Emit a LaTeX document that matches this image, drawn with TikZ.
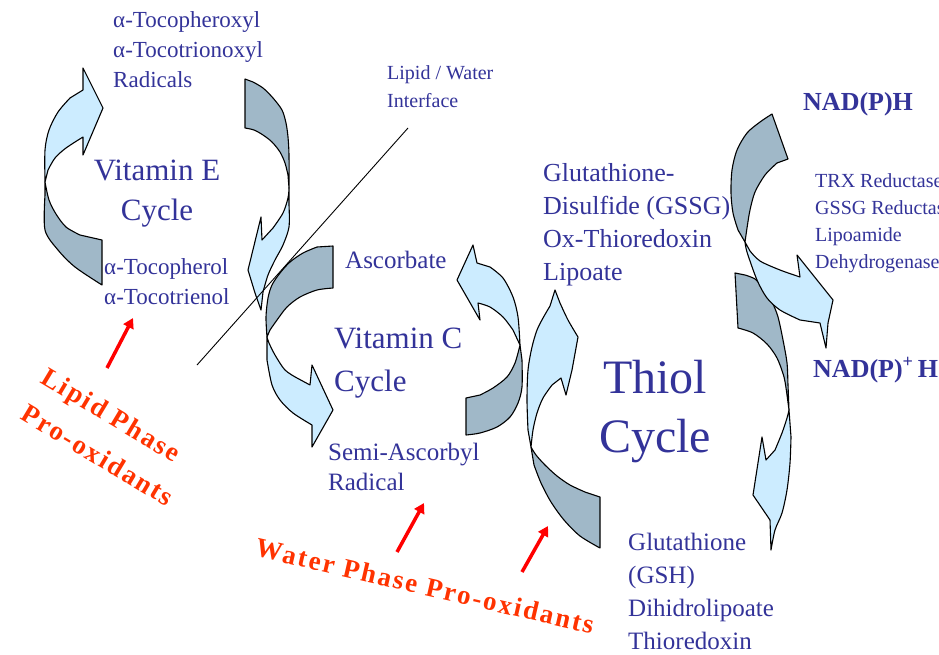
\documentclass[tikz,border=0pt]{standalone}
\usepackage{fontspec}
\setmainfont{Liberation Serif}
\usepackage{tikz}
\usetikzlibrary{arrows.meta}
\definecolor{azulTexto}{RGB}{51,51,153}
\definecolor{vermelhoTexto}{RGB}{255,51,0}
\definecolor{faceClaraCor}{RGB}{204,236,255}
\definecolor{faceEscuraCor}{RGB}{160,184,200}
\newcommand{\tam}[2]{\fontsize{#1}{#2}\selectfont}
\tikzset{
    face/.style={draw=black, line width=1.1pt, line join=round},
    faceClara/.style={face, fill=faceClaraCor},
    faceEscura/.style={face, fill=faceEscuraCor},
    rotulo/.style={text=azulTexto, align=left, inner sep=0pt, anchor=base west},
    tituloCiclo/.style={text=azulTexto, align=center, inner sep=0pt, anchor=base},
    cofator/.style={rotulo, font=\bfseries\tam{26}{30}},
    oxidante/.style={text=vermelhoTexto, inner sep=0pt,
        font=\bfseries\tam{27}{38}\addfontfeatures{LetterSpace=8}},
    setaOxidante/.style={-{Triangle[length=10pt,width=11pt]}, red, line width=3.5pt},
    linhaInterface/.style={line width=0.9pt}
}

\begin{document}
\begin{tikzpicture}[x=1pt, y=-1pt]
    \useasboundingbox (0,0) rectangle (939,654);
    \fill[white] (0,0) rectangle (939,654);

    % ciclo da vitamina E
    \draw[faceEscura] (45,182) -- plot[smooth] coordinates {(45,195) (45,230) (58,250) (75,267) (102,285)}
        -- (102,240) -- plot[smooth] coordinates {(80,235) (66,227) (56,214) (49,200) (45,182)} -- cycle;
    \draw[faceClara] (103,108) -- (83,68) -- (83,90) -- plot[smooth] coordinates {(70,98) (58,112) (49,130) (45,150) (45,182)}
        -- plot[smooth] coordinates {(48,170) (55,158) (66,148) (83,137)} -- (83,155) -- cycle;
    \draw[faceEscura] (245,79) -- plot[smooth] coordinates {(253,82) (263,88) (273,98) (282,110) (286,123) (288,137) (289,155) (289,188)}
        -- plot[smooth] coordinates {(288,175) (285,163) (280,152) (272,142) (263,135) (254,130) (245,128)} -- cycle;
    \draw[faceClara] (289,188) -- plot[smooth] coordinates {(289,205) (289,227) (283,245) (275,260) (268,275) (263,292)}
        -- (261,310) -- (255,293) -- (248,270) -- (261,217) -- (262,240)
        -- plot[smooth] coordinates {(273,228) (283,213) (288,198) (289,188)} -- cycle;

    % ciclo da vitamina C
    \draw[faceEscura] (333,246) -- plot[smooth] coordinates {(317,247) (303,253) (290,262) (280,273) (272,285) (268,298) (266,317) (267,337)}
        -- plot[smooth] coordinates {(270,330) (277,320) (287,307) (300,297) (317,290) (333,288)} -- cycle;
    \draw[faceClara] (267,337) -- plot[smooth] coordinates {(267,360) (272,385) (280,400) (293,413) (312,425)}
        -- (312,447) -- (333,410) -- (312,365) -- (310,385)
        -- plot[smooth] coordinates {(297,378) (285,370) (275,355) (269,343) (267,337)} -- cycle;
    \draw[faceClara] (473,245) -- (477,263) -- plot[smooth] coordinates {(490,267) (503,278) (513,297) (518,317) (520,345)}
        -- plot[smooth] coordinates {(513,330) (503,317) (490,307) (478,303)} -- (480,320) -- (457,280) -- cycle;
    \draw[faceEscura] (520,345) -- plot[smooth] coordinates {(522,360) (522,387) (518,403) (510,417) (497,427) (480,433) (466,435)}
        -- (466,398) -- plot[smooth] coordinates {(480,395) (493,388) (507,377) (515,363) (520,345)} -- cycle;

    % ciclo dos tiois
    \draw[faceClara] (555,290) -- plot[smooth] coordinates {(560,303) (568,320) (578,337)} -- (572,370) -- (566,395) -- (561,378)
        -- plot[smooth] coordinates {(552,385) (543,398) (537,413) (533,430) (531,447)}
        -- plot[smooth] coordinates {(528,430) (527,400) (528,370) (532,347) (537,330) (543,318) (550,306)} -- cycle;
    \draw[faceEscura] (531,447) -- plot[smooth] coordinates {(534,465) (541,483) (551,502) (564,520) (580,536) (600,548)}
        -- (600,497) -- plot[smooth] coordinates {(585,492) (570,485) (557,476) (545,465) (536,455) (531,447)} -- cycle;
    \draw[faceEscura] (735,273) -- plot[smooth] coordinates {(745,275) (755,279) (763,288) (772,302) (778,317) (783,340) (787,363) (788,385) (789,410)}
        -- plot[smooth] coordinates {(787,395) (784,377) (777,358) (767,344) (753,333) (738,328)} -- cycle;
    \draw[faceClara] (789,410) -- plot[smooth] coordinates {(791,437) (790,463) (787,490) (782,513) (775,530) (771,550)}
        -- (770,520) -- (753,495) -- (762,437) -- (766,460)
        -- plot[smooth] coordinates {(775,450) (782,433) (787,418) (789,410)} -- cycle;

    % NAD(P)H
    \draw[faceEscura] (772,114) -- (788,159) -- plot[smooth] coordinates {(777,163) (765,175) (755,192) (750,210) (747,228) (745,242)}
        -- plot[smooth] coordinates {(738,230) (733,213) (731,193) (732,170) (737,150) (747,133) (760,122) (772,114)} -- cycle;
    \draw[faceClara] (745,242) -- plot[smooth] coordinates {(750,251) (760,261) (780,270) (800,277)}
        -- (797,255) -- (833,300) -- (828,323) -- (826,348) -- (820,323)
        -- plot[smooth] coordinates {(800,320) (780,310) (767,298) (757,280) (747,252) (745,242)} -- cycle;

    \coordinate (interfaceA) at (197,365);
    \coordinate (interfaceB) at (408,128);
    \draw[linhaInterface] (interfaceA) -- (interfaceB);

    \node[rotulo, font=\tam{23}{30}] (radicaisE) at (113,87) {α-Tocopheroxyl\\α-Tocotrionoxyl\\Radicals};
    \node[tituloCiclo, font=\tam{31}{40}] (cicloE) at (157,220) {Vitamin E\\Cycle};
    \node[rotulo, font=\tam{23}{30}] (tocoferol) at (104,304) {α-Tocopherol\\α-Tocotrienol};
    \node[rotulo, font=\tam{20}{28}] (interfaceTxt) at (387,107) {Lipid / Water\\Interface};
    \node[rotulo, font=\tam{25}{30}] (ascorbato) at (345,268) {Ascorbate};
    \node[rotulo, font=\tam{31}{43}] (cicloC) at (334,391) {Vitamin C\\Cycle};
    \node[rotulo, font=\tam{25}{30}] (semiAscorbil) at (328,490) {Semi-Ascorbyl\\Radical};
    \node[rotulo, font=\tam{26}{33}] (dissulfeto) at (543,280) {Glutathione-\\Disulfide (GSSG)\\Ox-Thioredoxin\\Lipoate};
    \node[tituloCiclo, font=\tam{48}{59}] (cicloTiol) at (655,452) {Thiol\\Cycle};
    \node[cofator] (nadph) at (803,110) {NAD(P)H};
    \node[rotulo, font=\tam{20}{27}] (enzimas) at (815,268) {TRX Reductase\\GSSG Reductase\\Lipoamide\\Dehydrogenase};
    \node[cofator] (nadp) at (813,377) {NAD(P)\textsuperscript{+}\,H};
    \node[rotulo, font=\tam{25}{33}] (glutationa) at (628,649) {Glutathione\\(GSH)\\Dihidrolipoate\\Thioredoxin};

    \node[oxidante, rotate=-31] (lipidica) at (110,417) {Lipid Phase};
    \node[oxidante, rotate=-31] (prooxidanteL) at (98,455) {Pro-oxidants};
    \node[oxidante, rotate=-13] (aquosa) at (425,586) {Water Phase Pro-oxidants};

    \coordinate (lipidicaA) at (107,368);
    \coordinate (lipidicaB) at (133,318);
    \coordinate (aquosaA) at (397,552);
    \coordinate (aquosaB) at (424,503);
    \coordinate (tiolA) at (522,572);
    \coordinate (tiolB) at (548,526);
    \draw[setaOxidante] (lipidicaA) -- (lipidicaB);
    \draw[setaOxidante] (aquosaA) -- (aquosaB);
    \draw[setaOxidante] (tiolA) -- (tiolB);
\end{tikzpicture}
\end{document}
